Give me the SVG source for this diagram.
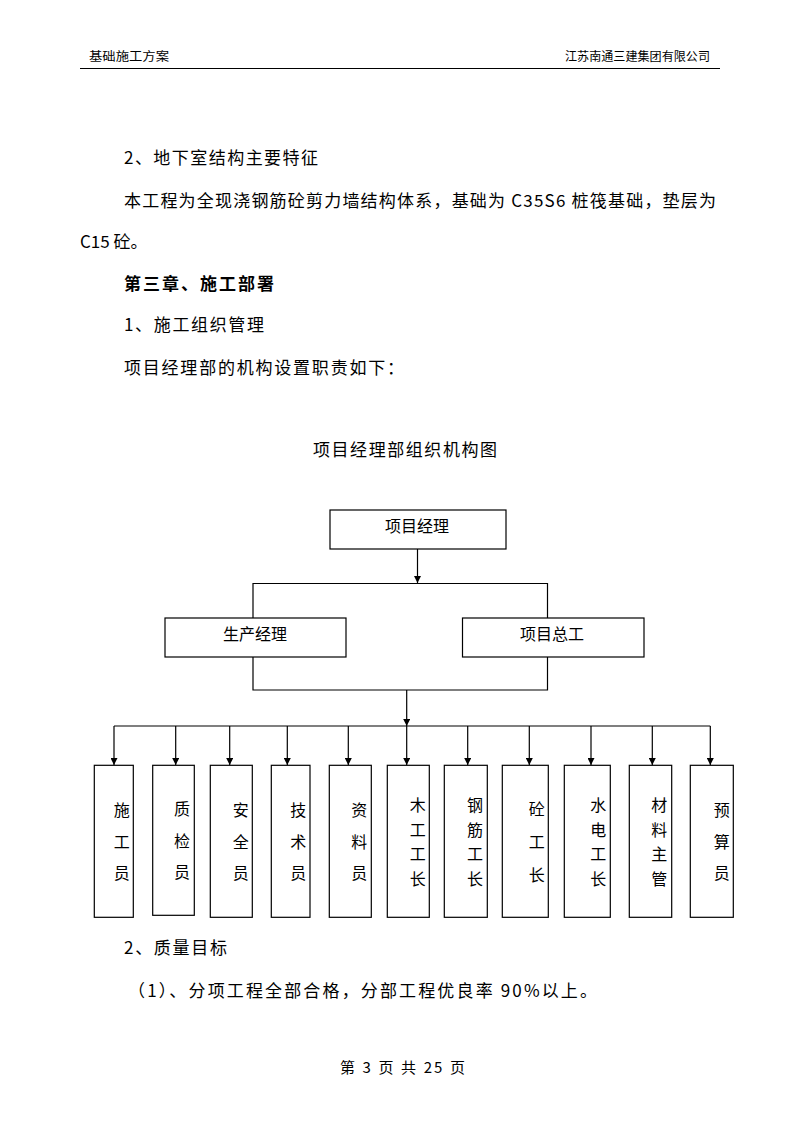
<svg xmlns="http://www.w3.org/2000/svg" width="794" height="1123" viewBox="0 0 794 1123">
<style>
text{font-family:"Noto Sans CJK SC","Liberation Sans",sans-serif;fill:#000}
.hd{font-size:12px}
.bd{font-size:17px}
.b{font-weight:bold}
.nd rect{fill:#fff;stroke:#000;stroke-width:1.2}
.nd text{font-size:16px;text-anchor:middle}
.cn line,.cn polyline{stroke:#000;stroke-width:1.2;fill:none}
</style>
<defs>
<marker id="ah" viewBox="0 0 8 8" refX="8" refY="4" markerWidth="7" markerHeight="7" markerUnits="userSpaceOnUse" orient="auto">
<path d="M0,0 L8,4 L0,8 z" fill="#000"/>
</marker>
</defs>
<rect width="794" height="1123" fill="#fff"/>
<text class="hd" x="89" y="61" textLength="80" lengthAdjust="spacingAndGlyphs">基础施工方案</text>
<text class="hd" x="565" y="61" textLength="145" lengthAdjust="spacingAndGlyphs">江苏南通三建集团有限公司</text>
<line x1="80" y1="68.5" x2="720" y2="68.5" stroke="#000" stroke-width="1"/>
<text class="bd" x="124" y="163.5" textLength="194" lengthAdjust="spacing">2、地下室结构主要特征</text>
<text class="bd" x="124" y="206.5" textLength="592" lengthAdjust="spacing">本工程为全现浇钢筋砼剪力墙结构体系，基础为 C35S6 桩筏基础，垫层为</text>
<text class="bd" x="80" y="247.5">C15 砼。</text>
<text class="bd b" x="124" y="289.5" textLength="150" lengthAdjust="spacing">第三章、施工部署</text>
<text class="bd" x="124" y="330.5" textLength="140" lengthAdjust="spacing">1、施工组织管理</text>
<text class="bd" x="124" y="373.5" textLength="280" lengthAdjust="spacing">项目经理部的机构设置职责如下：</text>
<text class="bd" x="313" y="455.5" textLength="184" lengthAdjust="spacing">项目经理部组织机构图</text>
<g class="cn" id="connectors">
<line x1="417.5" y1="549" x2="417.5" y2="583" marker-end="url(#ah)"/>
<polyline points="253,618 253,583.5 547.5,583.5 547.5,618"/>
<polyline points="253,657 253,690 547.5,690 547.5,657"/>
<line x1="406.7" y1="690" x2="406.7" y2="726" marker-end="url(#ah)"/>
<line x1="114" y1="726" x2="710.3" y2="726"/>
<line x1="114" y1="726" x2="114" y2="765" marker-end="url(#ah)"/>
<line x1="175.7" y1="726" x2="175.7" y2="765" marker-end="url(#ah)"/>
<line x1="229.7" y1="726" x2="229.7" y2="765" marker-end="url(#ah)"/>
<line x1="287.3" y1="726" x2="287.3" y2="765" marker-end="url(#ah)"/>
<line x1="348.3" y1="726" x2="348.3" y2="765" marker-end="url(#ah)"/>
<line x1="406.7" y1="726" x2="406.7" y2="765" marker-end="url(#ah)"/>
<line x1="467.7" y1="726" x2="467.7" y2="765" marker-end="url(#ah)"/>
<line x1="529.3" y1="726" x2="529.3" y2="765" marker-end="url(#ah)"/>
<line x1="591" y1="726" x2="591" y2="765" marker-end="url(#ah)"/>
<line x1="652.3" y1="726" x2="652.3" y2="765" marker-end="url(#ah)"/>
<line x1="710.3" y1="726" x2="710.3" y2="765" marker-end="url(#ah)"/>
</g>
<g class="nd" id="n-pm"><rect x="330" y="510" width="176" height="39"/><text x="417" y="532">项目经理</text></g>
<g class="nd" id="n-prod"><rect x="165" y="618" width="181" height="39"/><text x="255" y="640">生产经理</text></g>
<g class="nd" id="n-chief"><rect x="462.5" y="618" width="181.5" height="39"/><text x="552" y="640">项目总工</text></g>
<g class="nd" id="n1"><rect x="94.3" y="765.3" width="39" height="152"/><text x="121.7" y="816">施</text><text x="121.7" y="847.7">工</text><text x="121.7" y="879">员</text></g>
<g class="nd" id="n2"><rect x="152.7" y="765.3" width="41.6" height="150"/><text x="182" y="815">质</text><text x="182" y="846.7">检</text><text x="182" y="878">员</text></g>
<g class="nd" id="n3"><rect x="210.3" y="765.3" width="42" height="152"/><text x="240.7" y="816">安</text><text x="240.7" y="847.7">全</text><text x="240.7" y="879">员</text></g>
<g class="nd" id="n4"><rect x="271.3" y="765.3" width="38.7" height="152"/><text x="298.3" y="816">技</text><text x="298.3" y="847.7">术</text><text x="298.3" y="879">员</text></g>
<g class="nd" id="n5"><rect x="329.3" y="765.3" width="42" height="152"/><text x="359.3" y="816">资</text><text x="359.3" y="847.7">料</text><text x="359.3" y="879">员</text></g>
<g class="nd" id="n6"><rect x="387.3" y="765.3" width="42" height="152"/><text x="417.7" y="811">木</text><text x="417.7" y="835.5">工</text><text x="417.7" y="860">工</text><text x="417.7" y="884.5">长</text></g>
<g class="nd" id="n7"><rect x="444.3" y="765.3" width="43" height="152"/><text x="475" y="811">钢</text><text x="475" y="835.5">筋</text><text x="475" y="860">工</text><text x="475" y="884.5">长</text></g>
<g class="nd" id="n8"><rect x="502.3" y="765.3" width="46" height="152"/><text x="536.7" y="815">砼</text><text x="536.7" y="848">工</text><text x="536.7" y="881">长</text></g>
<g class="nd" id="n9"><rect x="564.3" y="765.3" width="46" height="152"/><text x="598.3" y="811">水</text><text x="598.3" y="835.5">电</text><text x="598.3" y="860">工</text><text x="598.3" y="884.5">长</text></g>
<g class="nd" id="n10"><rect x="629.3" y="765.3" width="42.4" height="152"/><text x="659.3" y="811">材</text><text x="659.3" y="835.5">料</text><text x="659.3" y="860">主</text><text x="659.3" y="884.5">管</text></g>
<g class="nd" id="n11"><rect x="690.3" y="765.3" width="43" height="152"/><text x="721.7" y="816">预</text><text x="721.7" y="847.7">算</text><text x="721.7" y="879">员</text></g>
<text class="bd" x="124" y="953.5" textLength="103" lengthAdjust="spacing">2、质量目标</text>
<text class="bd" x="128" y="996.5" textLength="469" lengthAdjust="spacing">（1）、分项工程全部合格，分部工程优良率 90%以上。</text>
<text x="340" y="1072.5" font-size="15" textLength="125" lengthAdjust="spacing">第 3 页 共 25 页</text>
</svg>
